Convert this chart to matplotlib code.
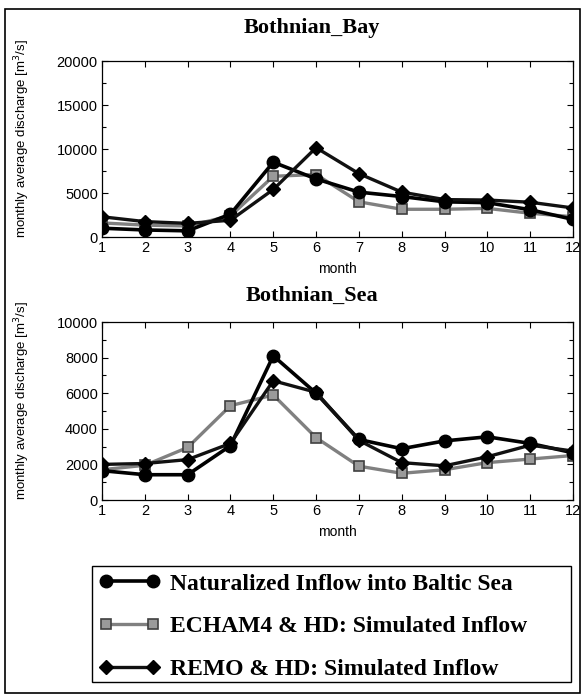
import matplotlib
matplotlib.use("Agg")
import matplotlib.pyplot as plt
from matplotlib.patches import Rectangle
from matplotlib.ticker import MultipleLocator

months = list(range(1, 13))

bay_natural = [1000, 800, 700, 2600, 8500, 6600, 5100, 4600, 4000, 3900, 3100, 2000]
bay_echam = [1600, 1350, 1250, 2400, 6900, 7100, 4000, 3150, 3150, 3250, 2700, 2300]
bay_remo = [2300, 1750, 1550, 1900, 5400, 10150, 7200, 5100, 4250, 4200, 3950, 3300]

sea_natural = [1650, 1420, 1420, 3050, 8100, 6000, 3400, 2880, 3320, 3550, 3180, 2650]
sea_echam = [1700, 1950, 2950, 5300, 5900, 3500, 1900, 1500, 1700, 2100, 2300, 2500]
sea_remo = [2000, 2050, 2270, 3180, 6700, 6050, 3350, 2100, 1920, 2430, 3080, 2750]

panel_titles = ["Bothnian_Bay", "Bothnian_Sea"]
legend_labels = ["Naturalized Inflow into Baltic Sea",
                 "ECHAM4 & HD: Simulated Inflow",
                 "REMO & HD: Simulated Inflow"]
ylabel = "monthly average discharge [m$^3$/s]"
xlabel = "month"

SANS = "Liberation Sans"
SERIF = "Liberation Serif"

W, H = 586, 697
fig = plt.figure(figsize=(W / 100, H / 100), dpi=100)

def fx(px):
    return px / W

def fy(py):
    return 1 - py / H

styles = [
    dict(color="black", lw=2.6, marker="o", ms=9, mfc="black", mec="black", zorder=3),
    dict(color="#808080", lw=2.4, marker="s", ms=7, mfc="#9a9a9a", mec="#404040", mew=1.2, zorder=2),
    dict(color="#111111", lw=2.4, marker="D", ms=7, mfc="black", mec="black", zorder=4),
]

panels = [
    dict(data=[bay_natural, bay_echam, bay_remo], top=61, bot=237, ymax=20000, major=5000, minor=2500),
    dict(data=[sea_natural, sea_echam, sea_remo], top=322, bot=500, ymax=10000, major=2000, minor=1000),
]

left_px, right_px = 102, 573
handles = None
for i, p in enumerate(panels):
    ax = fig.add_axes([fx(left_px), fy(p["bot"]), fx(right_px - left_px), (p["bot"] - p["top"]) / H])
    hs = []
    for series, st in zip(p["data"], styles):
        h, = ax.plot(months, series, **st)
        hs.append(h)
    if handles is None:
        handles = hs
    ax.set_xlim(1, 12)
    ax.set_ylim(0, p["ymax"])
    ax.set_xticks(months)
    ax.yaxis.set_major_locator(MultipleLocator(p["major"]))
    ax.yaxis.set_minor_locator(MultipleLocator(p["minor"]))
    ax.tick_params(which="both", direction="in", top=True, right=True, length=4, width=0.8,
                   labelsize=10.5, pad=3)
    ax.tick_params(which="minor", length=3)
    for lab in ax.get_xticklabels() + ax.get_yticklabels():
        lab.set_fontfamily(SANS)
    for s in ax.spines.values():
        s.set_linewidth(0.9)
    ax.set_xlabel(xlabel, fontsize=10, fontfamily=SANS, labelpad=5)
    ax.set_ylabel(ylabel, fontsize=9.5, fontfamily=SANS)
    ax.yaxis.set_label_coords((32 - left_px) / (right_px - left_px), 0.56)
    title_y = 28 if i == 0 else 296
    fig.text(fx(312), fy(title_y), panel_titles[i], ha="center", va="center",
             fontsize=16, fontweight="bold", fontfamily=SERIF)

# legend
leg = fig.legend(handles, legend_labels, loc="upper left",
                 bbox_to_anchor=(fx(92), fy(566)), frameon=False,
                 prop=dict(family=SERIF, weight="bold", size=17),
                 numpoints=2, handlelength=2.6, handletextpad=0.4, labelspacing=0.9,
                 borderpad=0.3, borderaxespad=0)
fig.add_artist(Rectangle((fx(92), fy(682)), fx(571 - 92), (682 - 566) / H,
                         transform=fig.transFigure, fill=False, lw=1.0, ec="black"))

# outer frame
fig.add_artist(Rectangle((fx(5), fy(693)), fx(580 - 5), (693 - 9) / H,
                         transform=fig.transFigure, fill=False, lw=1.2, ec="black"))

fig.savefig("out.png", dpi=100, facecolor="white")
